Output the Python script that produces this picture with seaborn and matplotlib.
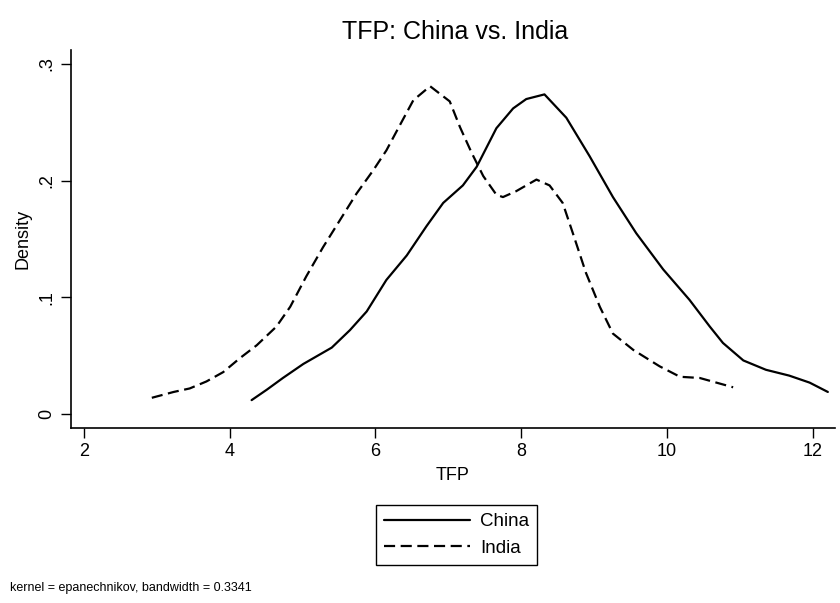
import pandas as pd
import seaborn as sns
import matplotlib.pyplot as plt

# Kernel density curves
china_tfp = [4.30, 4.51, 4.73, 5.01, 5.40, 5.65, 5.88, 6.15, 6.43, 6.70, 6.93, 7.20, 7.39,
             7.66, 7.89, 8.07, 8.32, 8.62, 8.94, 9.26, 9.58, 9.95, 10.31, 10.59, 10.77,
             11.05, 11.36, 11.68, 11.96, 12.21]
china_density = [0.012, 0.021, 0.031, 0.043, 0.057, 0.072, 0.088, 0.115, 0.136, 0.161, 0.181,
                 0.196, 0.212, 0.245, 0.262, 0.270, 0.274, 0.254, 0.221, 0.186, 0.155, 0.124,
                 0.098, 0.075, 0.061, 0.046, 0.038, 0.033, 0.027, 0.019]

india_tfp = [2.93, 3.23, 3.45, 3.68, 3.91, 4.14, 4.37, 4.64, 4.83, 5.05, 5.28, 5.51, 5.74,
             5.97, 6.15, 6.33, 6.52, 6.75, 7.02, 7.16, 7.32, 7.48, 7.66, 7.75, 7.93, 8.21,
             8.39, 8.57, 8.71, 8.89, 9.08, 9.26, 9.54, 9.90, 10.18, 10.45, 10.68, 10.91]
india_density = [0.014, 0.019, 0.022, 0.028, 0.036, 0.048, 0.059, 0.075, 0.092, 0.118, 0.143,
                 0.166, 0.189, 0.209, 0.226, 0.247, 0.269, 0.281, 0.268, 0.246, 0.224, 0.204,
                 0.188, 0.186, 0.191, 0.201, 0.196, 0.181, 0.155, 0.121, 0.092, 0.069, 0.055,
                 0.041, 0.032, 0.031, 0.027, 0.023]

x_ticks = [2, 4, 6, 8, 10, 12]
y_ticks = [0, 0.1, 0.2, 0.3]
y_tick_labels = ['0', '.1', '.2', '.3']

china = pd.DataFrame({'TFP': china_tfp, 'Density': china_density})
india = pd.DataFrame({'TFP': india_tfp, 'Density': india_density})

sns.set_style('ticks')
plt.rcParams['font.family'] = ['Liberation Sans', 'DejaVu Sans']
plt.rcParams['text.color'] = 'black'
plt.rcParams['axes.labelcolor'] = 'black'
plt.rcParams['xtick.color'] = 'black'
plt.rcParams['ytick.color'] = 'black'

fig = plt.figure(figsize=(8.4, 6.03), dpi=100)
ax = fig.add_axes([0.0842, 0.290, 0.910, 0.627])

sns.lineplot(data=china, x='TFP', y='Density', color='black', linewidth=1.6,
             label='China', ax=ax)
sns.lineplot(data=india, x='TFP', y='Density', color='black', linewidth=1.6,
             linestyle=(0, (5, 2.5)), label='India', ax=ax)

ax.set_xlim(1.817, 12.31)
ax.set_ylim(-0.012, 0.312)
ax.set_xticks(x_ticks)
ax.set_yticks(y_ticks)
ax.set_yticklabels(y_tick_labels, rotation=90, va='center')
ax.tick_params(axis='both', length=7, width=1, labelsize=13, pad=4)
sns.despine(ax=ax)
for side in ['left', 'bottom']:
    ax.spines[side].set_color('black')
    ax.spines[side].set_linewidth(1.2)

ax.set_xlabel('TFP', fontsize=13, labelpad=5)
ax.set_ylabel('Density', fontsize=13, labelpad=5)
fig.text(0.542, 0.947, 'TFP: China vs. India', ha='center', va='center', fontsize=18)

# Stata-like legend under the plot
ax.get_legend().remove()
handles, labels = ax.get_legend_handles_labels()
fig.legend(handles, labels, loc='center', bbox_to_anchor=(0.5435, 0.113), frameon=True,
           fancybox=False, edgecolor='black', framealpha=1, fontsize=13.5,
           handlelength=4.6, handletextpad=0.5, borderpad=0.45, labelspacing=0.5)

fig.text(0.012, 0.025, 'kernel = epanechnikov, bandwidth = 0.3341', fontsize=9, ha='left',
         va='center')

fig.savefig('out.png', dpi=100, facecolor='white')
